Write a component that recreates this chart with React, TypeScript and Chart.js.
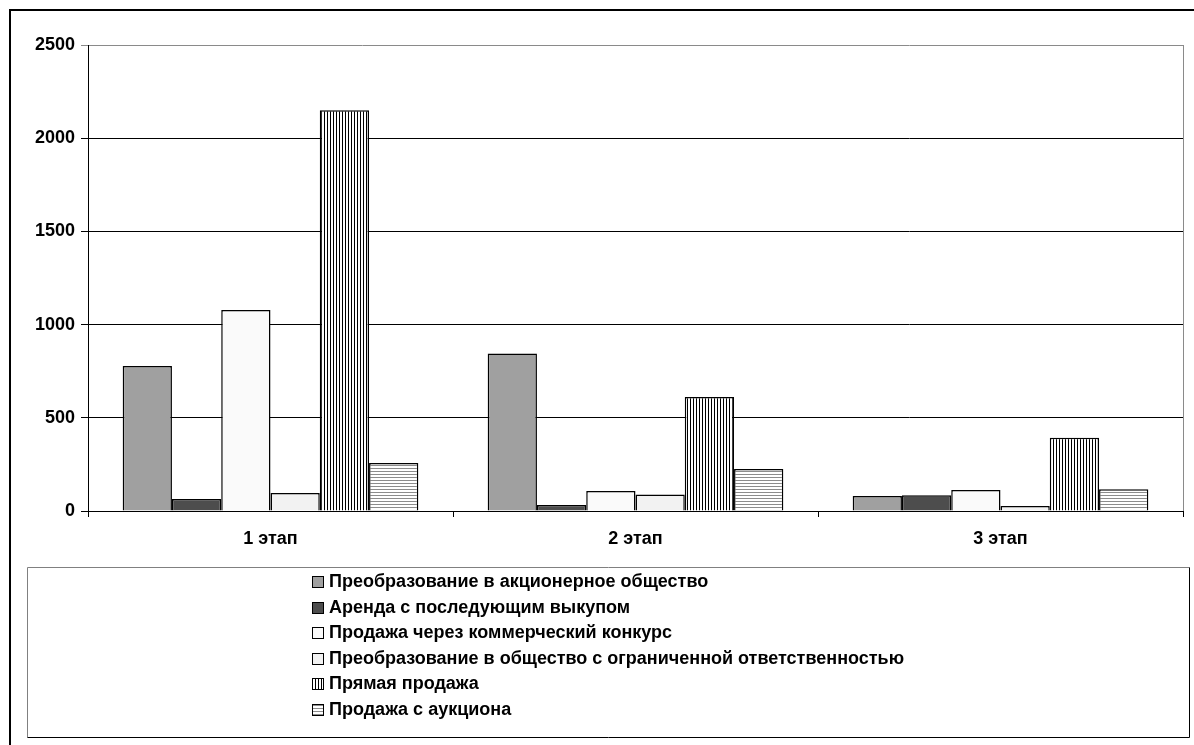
import React, { useEffect, useRef } from "react";
import { Chart, registerables } from "chart.js";

Chart.register(...registerables);

const categories = ["1 этап", "2 этап", "3 этап"];
const seriesNames = [
  "Преобразование в акционерное общество",
  "Аренда с последующим выкупом",
  "Продажа через коммерческий конкурс",
  "Преобразование в общество с ограниченной ответственностью",
  "Прямая продажа",
  "Продажа с аукциона",
];
const jointStock = [778, 845, 80];
const leaseBuyout = [65, 32, 84];
const commercialTender = [1078, 107, 112];
const llcConversion = [97, 89, 27];
const directSale = [2150, 612, 393];
const auctionSale = [257, 225, 117];
const yTicks = [0, 500, 1000, 1500, 2000, 2500];

const FONT = "'Liberation Sans', Arial, sans-serif";
const W = 1194;
const H = 745;

function makeVerticalStripes(): CanvasPattern | string {
  const c = document.createElement("canvas");
  c.width = 3;
  c.height = 1;
  const g = c.getContext("2d");
  if (!g) return "#888";
  g.fillStyle = "#ffffff";
  g.fillRect(0, 0, 3, 1);
  g.fillStyle = "#000000";
  g.fillRect(0, 0, 1, 1);
  return g.createPattern(c, "repeat") || "#888";
}

function makeHorizontalStripes(): CanvasPattern | string {
  const c = document.createElement("canvas");
  c.width = 1;
  c.height = 3;
  const g = c.getContext("2d");
  if (!g) return "#ccc";
  g.fillStyle = "#ffffff";
  g.fillRect(0, 0, 1, 3);
  g.fillStyle = "#8c8c8c";
  g.fillRect(0, 0, 1, 1);
  return g.createPattern(c, "repeat") || "#ccc";
}

export default function App() {
  const ref = useRef<HTMLCanvasElement | null>(null);

  useEffect(() => {
    const canvas = ref.current;
    if (!canvas) return;
    const vStripes = makeVerticalStripes();
    const hStripes = makeHorizontalStripes();
    const fills: (string | CanvasPattern)[] = [
      "#a0a0a0",
      "#4d4d4d",
      "#fafafa",
      "#f2f2f2",
      vStripes,
      hStripes,
    ];
    const seriesData = [
      jointStock,
      leaseBuyout,
      commercialTender,
      llcConversion,
      directSale,
      auctionSale,
    ];

    const framePlugin = {
      id: "framePlugin",
      beforeDraw(chart: any) {
        const ctx = chart.ctx;
        ctx.save();
        ctx.fillStyle = "#fff";
        ctx.fillRect(0, 0, W, H);
        ctx.restore();
      },
      afterDraw(chart: any) {
        const ctx = chart.ctx;
        const area = chart.chartArea;
        ctx.save();
        // outer frame (only top and left edges fall inside the picture)
        ctx.fillStyle = "#000";
        ctx.fillRect(9, 9, W - 9, 2);
        ctx.fillRect(9, 9, 2, H - 9);
        // plot right border
        ctx.strokeStyle = "#8a8a8a";
        ctx.lineWidth = 1;
        ctx.beginPath();
        ctx.moveTo(Math.round(area.right) + 0.5, area.top);
        ctx.lineTo(Math.round(area.right) + 0.5, area.bottom);
        ctx.stroke();
        // legend box
        const lx = 27.5, ly = 567.5, rx = 1189.5, by = 737.5;
        ctx.strokeStyle = "#808080";
        ctx.beginPath();
        ctx.moveTo(lx, by);
        ctx.lineTo(lx, ly);
        ctx.lineTo(rx, ly);
        ctx.stroke();
        ctx.strokeStyle = "#000";
        ctx.beginPath();
        ctx.moveTo(rx, ly);
        ctx.lineTo(rx, by);
        ctx.lineTo(lx, by);
        ctx.stroke();
        // legend items
        ctx.font = `bold 18px ${FONT}`;
        ctx.textBaseline = "middle";
        ctx.textAlign = "left";
        chart.data.datasets.forEach((ds: any, i: number) => {
          const cy = 582 + i * 25.6;
          const bx = 312;
          const size = 12;
          const top = Math.round(cy - size / 2);
          ctx.fillStyle = ds.backgroundColor;
          ctx.fillRect(bx, top, size, size);
          ctx.strokeStyle = "#000";
          ctx.lineWidth = 1;
          ctx.strokeRect(bx + 0.5, top + 0.5, size - 1, size - 1);
          ctx.fillStyle = "#000";
          ctx.fillText(ds.label, 329, cy);
        });
        ctx.restore();
      },
    };

    const chart = new Chart(canvas, {
      type: "bar",
      data: {
        labels: categories,
        datasets: seriesNames.map((name, i) => ({
          label: name,
          data: seriesData[i],
          backgroundColor: fills[i] as any,
          borderColor: "#000",
          borderWidth: 1.5,
          categoryPercentage: 0.81,
          barPercentage: 1,
        })),
      },
      options: {
        responsive: false,
        animation: false,
        devicePixelRatio: 1,
        layout: { padding: { top: 45, right: 11, left: 0, bottom: 184 } },
        plugins: {
          legend: { display: false },
          tooltip: { enabled: false },
          title: { display: false },
        },
        scales: {
          x: {
            afterFit: (s: any) => {
              s.height = 50;
            },
            grid: {
              offset: true,
              drawOnChartArea: false,
              drawTicks: true,
              tickLength: 6,
              color: "#000",
            },
            border: { color: "#000", width: 1 },
            ticks: {
              color: "#000",
              font: { family: FONT, size: 18, weight: "bold" },
              padding: 11,
            },
          },
          y: {
            min: 0,
            max: 2500,
            afterFit: (s: any) => {
              s.width = 88;
            },
            afterBuildTicks: (s: any) => {
              s.ticks = yTicks.map((v) => ({ value: v }));
            },
            grid: {
              color: (c: any) => (c.tick && c.tick.value === 2500 ? "#8a8a8a" : "#000"),
              tickLength: 7,
              drawTicks: true,
            },
            border: { color: "#000", width: 1 },
            ticks: {
              color: "#000",
              font: { family: FONT, size: 18, weight: "bold" },
              padding: 6,
              callback: (v: any) => String(v),
            },
          },
        },
      },
      plugins: [framePlugin],
    });

    return () => chart.destroy();
  }, []);

  return (
    <div style={{ position: "fixed", left: 0, top: 0, width: W, height: H, background: "#fff", overflow: "hidden" }}>
      <canvas ref={ref} width={W} height={H} style={{ display: "block", width: W, height: H }} />
    </div>
  );
}
